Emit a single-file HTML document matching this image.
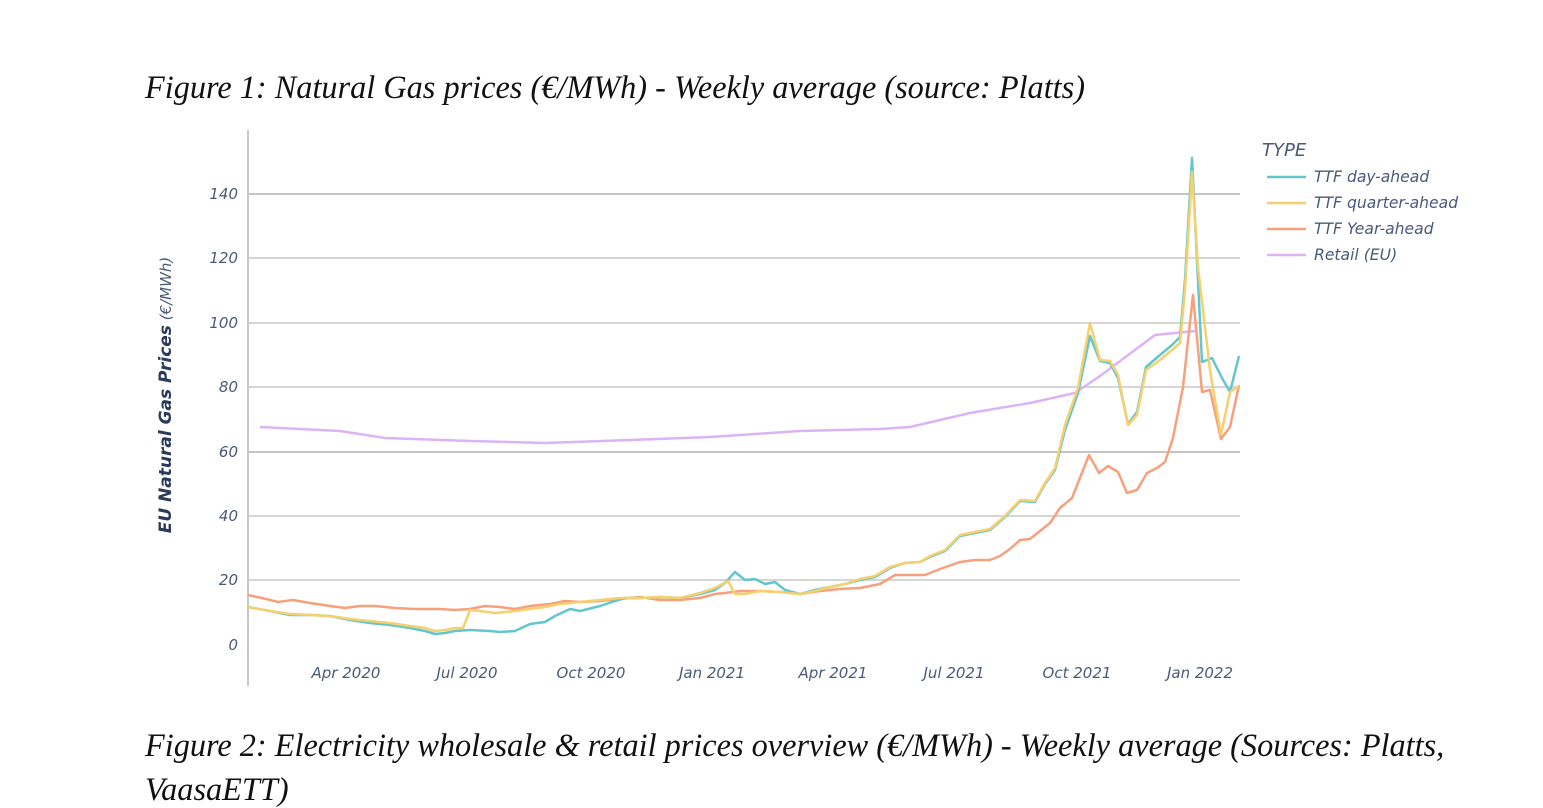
<!DOCTYPE html>
<html><head><meta charset="utf-8"><style>
body{margin:0;background:#fff;width:1543px;height:808px;overflow:hidden;}
.t{position:absolute;font-family:"Liberation Serif",serif;font-style:italic;font-size:32.3px;color:#111;white-space:nowrap;}
</style></head><body>
<div class="t" style="left:145px;top:69px;">Figure 1: Natural Gas prices (€/MWh) - Weekly average (source: Platts)</div>
<div class="t" style="left:145px;top:727px;">Figure 2: Electricity wholesale &amp; retail prices overview (€/MWh) - Weekly average (Sources: Platts,</div>
<div class="t" style="left:145px;top:771px;">VaasaETT)</div>
<svg width="1543" height="808" style="position:absolute;left:0;top:0" font-family="DejaVu Sans, sans-serif">
<g stroke="#d6d6d6" stroke-width="2">
<line x1="249" x2="1240" y1="580" y2="580"/><line x1="249" x2="1240" y1="516" y2="516"/>
<line x1="249" x2="1240" y1="452" y2="452" stroke="#c4c4c4"/><line x1="249" x2="1240" y1="387" y2="387"/>
<line x1="249" x2="1240" y1="323" y2="323"/><line x1="249" x2="1240" y1="258" y2="258"/>
<line x1="249" x2="1240" y1="194" y2="194" stroke="#c4c4c4"/>
</g>
<line x1="248" x2="248" y1="130" y2="686" stroke="#c8c8c8" stroke-width="2"/>
<g font-size="15" font-style="italic" fill="#4a5a7a" text-anchor="end">
<text x="238" y="650">0</text><text x="238" y="585">20</text><text x="238" y="521">40</text><text x="238" y="457">60</text><text x="238" y="392">80</text><text x="238" y="328">100</text><text x="238" y="263">120</text><text x="238" y="199">140</text>
</g>
<g font-size="15" font-style="italic" fill="#4a5a7a" text-anchor="middle">
<text x="346" y="678">Apr 2020</text><text x="467" y="678">Jul 2020</text><text x="591" y="678">Oct 2020</text><text x="712" y="678">Jan 2021</text><text x="833" y="678">Apr 2021</text><text x="954" y="678">Jul 2021</text><text x="1077" y="678">Oct 2021</text><text x="1200" y="678">Jan 2022</text>
</g>
<text transform="translate(171,395) rotate(-90)" text-anchor="middle" font-size="17" font-style="italic" fill="#2a3a5a"><tspan font-weight="bold">EU Natural Gas Prices</tspan><tspan font-size="15" fill="#4a5a7a">  (€/MWh)</tspan></text>
<g fill="none" stroke-width="2.5" stroke-linejoin="round">
<polyline stroke="#dcb4f5" points="260,427 340,431 385,438 470,441 545,443 630,440 710,437 800,431 880,429 910,427 970,413 1030,403 1075,393 1100,376 1155,335 1195,331"/>
<polyline stroke="#f7a07c" points="248,595 262,598 278,602 293,600 310,603 330,606 345,608 360,606 375,606 395,608 415,609 440,609 455,610 470,609 485,606 500,607 515,609 530,606 550,604 565,601 580,602 600,601 620,599 640,597 660,600 680,600 700,598 715,594 725,593 740,591 760,591 780,592 800,594 820,591 840,589 860,588 880,584 895,575 910,575 925,575 940,569 960,562 975,560 990,560 1000,556 1010,549 1020,540 1030,539 1040,531 1050,523 1060,508 1072,498 1089,455 1099,473 1108,466 1118,472 1127,493 1137,490 1147,473 1157,468 1165,462 1173,438 1183,387 1193,295 1202,392 1210,390 1221,439 1230,427 1239,385"/>
<polyline stroke="#63c6cf" points="248,607 270,611 290,615 310,615 330,616 350,620 370,623 390,625 410,628 425,631 435,634 445,633 455,631 470,630 490,631 500,632 515,631 530,624 545,622 555,616 570,609 580,611 600,606 615,601 625,598 640,598 660,597 680,598 700,594 715,590 725,583 735,572 745,580 755,579 765,584 775,582 785,590 800,594 815,590 830,587 845,584 860,580 875,577 890,568 905,563 920,562 930,557 945,551 960,536 975,533 990,530 1005,517 1020,501 1035,502 1045,484 1055,470 1065,430 1078,393 1090,336 1100,361 1110,363 1118,378 1128,424 1137,412 1146,367 1160,355 1172,345 1180,337 1185,280 1192,158 1202,362 1212,358 1222,378 1230,392 1239,356"/>
<polyline stroke="#f5d06e" points="248,607 270,611 290,614 310,615 330,616 350,619 370,621 390,623 410,626 425,628 435,631 445,630 455,628 463,628 470,610 480,611 495,613 515,611 530,609 545,607 560,604 580,602 600,600 620,598 640,598 660,597 680,598 700,593 715,588 728,581 735,594 745,594 760,591 780,592 800,594 815,591 830,587 845,584 860,579 875,576 890,567 905,563 920,562 930,556 945,550 960,535 975,532 990,529 1005,516 1020,500 1035,501 1045,483 1055,468 1065,425 1078,388 1090,323 1100,360 1110,361 1118,375 1128,425 1137,415 1146,370 1160,360 1172,350 1180,343 1185,290 1192,172 1198,267 1210,370 1221,435 1230,392 1239,386"/>
</g>
<text x="1262" y="156" font-size="18" font-style="italic" fill="#4a5a7a">TYPE</text>
<g font-size="15.6" font-style="italic" fill="#4a5a7a" stroke-width="2.5">
<line x1="1267" x2="1306" y1="177" y2="177" stroke="#63c6cf"/><text x="1314" y="182">TTF day-ahead</text>
<line x1="1267" x2="1306" y1="203" y2="203" stroke="#f5d06e"/><text x="1314" y="208">TTF quarter-ahead</text>
<line x1="1267" x2="1306" y1="229" y2="229" stroke="#f7a07c"/><text x="1314" y="234">TTF Year-ahead</text>
<line x1="1267" x2="1306" y1="255" y2="255" stroke="#dcb4f5"/><text x="1314" y="260">Retail (EU)</text>
</g>
</svg>
</body></html>
